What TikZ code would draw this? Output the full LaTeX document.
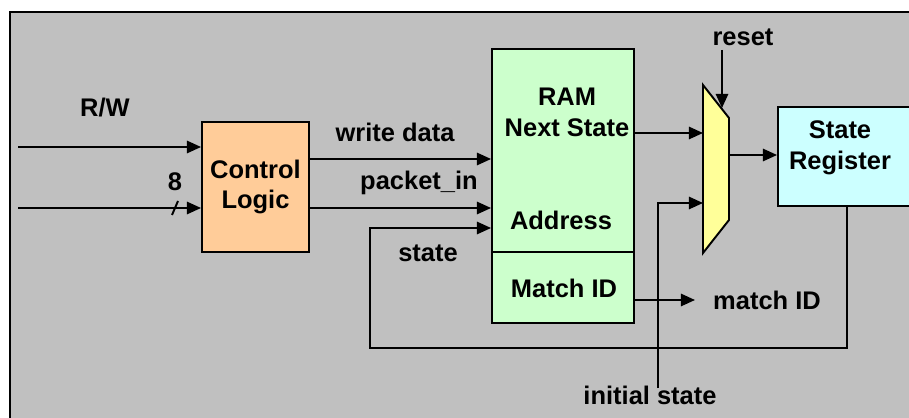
\documentclass[tikz,border=0pt]{standalone}
\usepackage{fontspec}
\setmainfont{Liberation Sans}
\definecolor{panelgray}{RGB}{192, 192, 192}
\definecolor{logicorange}{RGB}{255, 204, 153}
\definecolor{ramgreen}{RGB}{204, 255, 204}
\definecolor{muxyellow}{RGB}{255, 255, 153}
\definecolor{regcyan}{RGB}{204, 255, 255}
\usetikzlibrary{arrows.meta,positioning,calc}

\begin{document}
\begin{tikzpicture}[x=0.02cm, y=-0.02cm, line width=1.1pt,
    >={Triangle[length=8pt,width=7pt]},
    every node/.style={font=\fontsize{14.5}{17.5}\selectfont\bfseries, inner sep=0pt},
    blockbox/.style={rectangle, draw, line width=1.1pt}]
    \useasboundingbox (0,0) rectangle (909,418);
    \fill[white] (0,0) rectangle (909,418);
    \clip (0,0) rectangle (909,418);
    % Panel
    \draw[fill=panelgray, line width=1.4pt] (10,12) rectangle (940,450);

    % Blocks
    \node[blockbox, fill=logicorange, minimum width=107*0.02cm, minimum height=130*0.02cm] (ctrl) at (255.5,187) {};
    \node[align=center] (ctrl_text) at (255.5,187) {Control\\Logic};
    \node[blockbox, fill=ramgreen, minimum width=142*0.02cm, minimum height=203*0.02cm] (ram) at (563,150.5) {};
    \node[blockbox, fill=ramgreen, minimum width=142*0.02cm, minimum height=71*0.02cm] (match) at (563,287.5) {};
    \node[align=center] (ram_text) at (567,112.5) {RAM\\Next State};
    \node (addr_text) at (561,220) {Address};
    \node (match_text) at (564,288) {Match ID};
    \node[blockbox, fill=regcyan, minimum width=150*0.02cm, minimum height=99*0.02cm] (reg) at (853,156.5) {};
    \node[align=center] (reg_text) at (840,147.5) {State\\Register};

    % Mux
    \draw[fill=muxyellow] (703,85) coordinate (mux_tl) -- (729,118) -- (729,220) -- (703,253) coordinate (mux_bl) -- cycle;
    \coordinate (mux_a) at (703,133);
    \coordinate (mux_b) at (703,203);
    \coordinate (mux_out) at (729,155);
    \coordinate (mux_sel) at (722,108);

    % Inputs
    \coordinate (rw_in) at (18,147);
    \coordinate (pkt_in) at (18,208);
    \draw[->] (rw_in) -- (ctrl.west |- rw_in);
    \draw[->] (pkt_in) -- (ctrl.west |- pkt_in);
    \draw (172,215) -- (178,201);
    \node (rw_label) at (105,108) {R/W};
    \node (width_label) at (175,182) {8};

    % Control logic to RAM
    \draw[->] (ctrl.east |- 0,159) -- (ram.west |- 0,159) node[pos=0.47, above=9pt] {write data};
    \draw[->] (ctrl.east |- pkt_in) -- (ram.west |- pkt_in);
    \node (pkt_label) at (419,183) {packet\_in};

    % RAM to mux and register
    \draw[->] (ram.east |- mux_a) -- (mux_a);
    \coordinate (rst_in) at (722,50);
    \draw[->] (rst_in) -- (mux_sel);
    \node (rst_label) at (743,37) {reset};
    \coordinate (init_in) at (658,388);
    \draw[->] (init_in) -- (init_in |- mux_b) -- (mux_b);
    \node (init_label) at (650,395) {initial state};
    \draw[->] (mux_out) -- (reg.west |- mux_out);

    % Match output
    \coordinate (match_out) at (695,300);
    \draw[->] (match.east |- match_out) -- (match_out);
    \node (match_label) at (767,300) {match ID};

    % Feedback of state
    \draw[->] (847,206) -- (847,348) -- (370,348) -- (370,228) -- (ram.west |- 0,228);
    \node (state_label) at (428,253) {state};
\end{tikzpicture}
\end{document}
